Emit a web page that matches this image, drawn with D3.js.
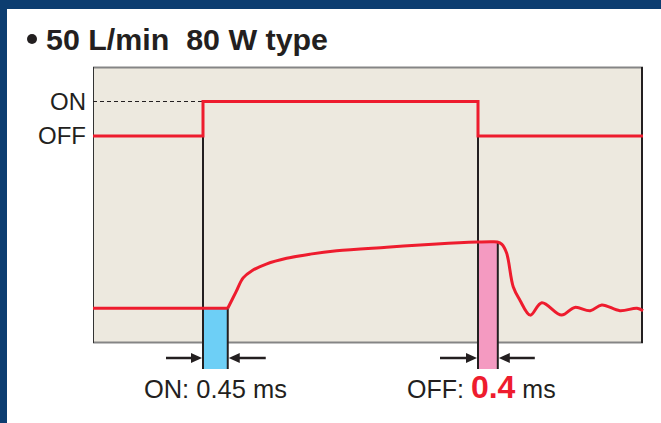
<!DOCTYPE html>
<html><head><meta charset="utf-8">
<script src="https://cdn.jsdelivr.net/npm/d3@7"></script>
<style>html,body{margin:0;padding:0;background:#0c3d70;}svg{display:block;}</style>
</head><body>
<script>
// ---- data ----
const titleText = "50 L/min  80 W type";
const levelLabels = ["ON", "OFF"];
const levelValues = [87.5, 75];
// digital control signal (time, level)
const digitalT = [0, 20, 20, 70, 70, 100];
const digitalV = [75, 75, 87.5, 87.5, 75, 75];
// analog response
const analogT = [0, 24.5, 26.0, 27.3, 28.9, 31.5, 35.2, 39.5, 44.3, 53.4, 62.5, 69.9, 72.5, 73.5, 74.3, 75.2, 76.4, 77.6, 79.5, 81.6, 85.2, 87.6, 90.4, 92.5, 95.8, 98.9, 100];
const analogV = [12.6, 12.6, 18.5, 23.6, 26.2, 28.6, 30.7, 32.2, 33.4, 34.7, 35.9, 36.6, 36.7, 36.6, 35.8, 32.6, 20.4, 15.6, 10.1, 14.6, 10.1, 12.9, 11.7, 13.8, 11.7, 12.6, 11.7];
// response delays (time intervals)
const onDelay = [20, 24.5];
const offDelay = [70, 73.6];
const onLabel = "ON: 0.45 ms";
const offLabelParts = ["OFF: ", "0.4", " ms"];

// ---- layout ----
const W = 661, H = 423;
const plot = {l: 93, r: 643, t: 67, b: 343};
const svg = d3.select("body").append("svg").attr("width", W).attr("height", H);
svg.append("rect").attr("width", W).attr("height", H).attr("fill", "#0c3d70");
svg.append("rect").attr("x", 7).attr("y", 9).attr("width", W - 7).attr("height", H - 9).attr("fill", "#ffffff");

const x = d3.scaleLinear().domain([0, 100]).range([plot.l, plot.r]);
const y = d3.scaleLinear().domain([0, 100]).range([plot.b, plot.t]);
const red = "#ee1c2e";
const font = "'Liberation Sans', Arial, Helvetica, sans-serif";

// title
svg.append("circle").attr("cx", 32).attr("cy", 39).attr("r", 5).attr("fill", "#231f20");
svg.append("text").attr("x", 46).attr("y", 50).attr("font-family", font).attr("font-weight", "bold")
  .attr("font-size", 30).attr("fill", "#231f20").style("white-space", "pre")
  .attr("textLength", 282).attr("lengthAdjust", "spacingAndGlyphs").text(titleText);

// plot background
svg.append("rect").attr("x", plot.l).attr("y", plot.t).attr("width", plot.r - plot.l).attr("height", plot.b - plot.t)
  .attr("fill", "#ede9df");
svg.append("line").attr("x1", plot.l).attr("x2", plot.r).attr("y1", plot.t + 0.5).attr("y2", plot.t + 0.5).attr("stroke", "#858585").attr("stroke-width", 2);
svg.append("line").attr("x1", plot.l).attr("x2", plot.r).attr("y1", plot.b - 0.5).attr("y2", plot.b - 0.5).attr("stroke", "#858585").attr("stroke-width", 2);
svg.append("line").attr("x1", plot.l + 0.5).attr("x2", plot.l + 0.5).attr("y1", plot.t).attr("y2", plot.b).attr("stroke", "#333").attr("stroke-width", 1);
svg.append("line").attr("x1", plot.r - 1).attr("x2", plot.r - 1).attr("y1", plot.t).attr("y2", plot.b).attr("stroke", "#231f20").attr("stroke-width", 2);

// y axis labels ON / OFF
const yAxis = d3.axisLeft(y).tickValues(levelValues).tickFormat((d, i) => levelLabels[i]).tickSize(0).tickPadding(7);
const ga = svg.append("g").attr("transform", `translate(${plot.l},0)`).call(yAxis);
ga.select(".domain").remove();
ga.selectAll("text").attr("font-family", font).attr("font-size", 24).attr("fill", "#231f20");

// dashed ON reference line
svg.append("line").attr("x1", x(0)).attr("x2", x(digitalT[1])).attr("y1", y(levelValues[0])).attr("y2", y(levelValues[0]))
  .attr("stroke", "#231f20").attr("stroke-width", 1).attr("stroke-dasharray", "4,3");

// delay bars
const barBottom = plot.b + 26;
function interp(t) {
  for (let i = 1; i < analogT.length; i++) if (analogT[i] >= t) {
    const a = analogT[i - 1], b = analogT[i];
    return analogV[i - 1] + (analogV[i] - analogV[i - 1]) * (b === a ? 0 : (t - a) / (b - a));
  }
  return analogV[analogV.length - 1];
}
const delays = [
  {iv: onDelay, fill: "#6dcff6", top: y(interp(onDelay[1]))},
  {iv: offDelay, fill: "#f49ac1", top: y(interp(offDelay[0]))}
];
delays.forEach(d => {
  svg.append("rect").attr("x", x(d.iv[0])).attr("y", d.top).attr("width", x(d.iv[1]) - x(d.iv[0]))
    .attr("height", barBottom - d.top).attr("fill", d.fill);
});
// black vertical markers
svg.append("line").attr("x1", x(onDelay[0])).attr("x2", x(onDelay[0])).attr("y1", y(levelValues[1])).attr("y2", barBottom).attr("stroke", "#231f20").attr("stroke-width", 2);
svg.append("line").attr("x1", x(onDelay[1])).attr("x2", x(onDelay[1])).attr("y1", delays[0].top).attr("y2", barBottom).attr("stroke", "#231f20").attr("stroke-width", 2);
svg.append("line").attr("x1", x(offDelay[0])).attr("x2", x(offDelay[0])).attr("y1", y(levelValues[1])).attr("y2", barBottom).attr("stroke", "#231f20").attr("stroke-width", 2);
svg.append("line").attr("x1", x(offDelay[1])).attr("x2", x(offDelay[1])).attr("y1", delays[1].top).attr("y2", barBottom).attr("stroke", "#231f20").attr("stroke-width", 2);

// digital signal
const dline = d3.line().x(d => x(d[0])).y(d => y(d[1]));
svg.append("path").attr("d", dline(digitalT.map((t, i) => [t, digitalV[i]])))
  .attr("fill", "none").attr("stroke", red).attr("stroke-width", 3);

// analog signal
const pts = analogT.map((t, i) => [t, analogV[i]]);
svg.append("path").attr("d", d3.line().x(d => x(d[0])).y(d => y(d[1]))(pts.slice(0, 2)))
  .attr("fill", "none").attr("stroke", red).attr("stroke-width", 3);
svg.append("path").attr("d", d3.line().x(d => x(d[0])).y(d => y(d[1])).curve(d3.curveCatmullRom.alpha(0.5))(pts.slice(1)))
  .attr("fill", "none").attr("stroke", red).attr("stroke-width", 3).attr("stroke-linejoin", "round");

// arrows
const arrowY = plot.b + 15;
function arrow(x1, x2) {
  const dir = Math.sign(x2 - x1);
  svg.append("line").attr("x1", x1).attr("x2", x2 - dir * 8).attr("y1", arrowY).attr("y2", arrowY)
    .attr("stroke", "#231f20").attr("stroke-width", 2.5);
  svg.append("path").attr("d", `M${x2},${arrowY} L${x2 - dir * 11},${arrowY - 5} L${x2 - dir * 11},${arrowY + 5} Z`)
    .attr("fill", "#231f20");
}
arrow(x(onDelay[0]) - 37, x(onDelay[0]) - 1);
arrow(x(onDelay[1]) + 38, x(onDelay[1]) + 1);
arrow(x(offDelay[0]) - 38, x(offDelay[0]) - 1);
arrow(x(offDelay[1]) + 37, x(offDelay[1]) + 1);

// labels
svg.append("text").attr("x", (x(onDelay[0]) + x(onDelay[1])) / 2).attr("y", 398).attr("text-anchor", "middle")
  .attr("font-family", font).attr("font-size", 25).attr("fill", "#231f20")
  .attr("textLength", 143).attr("lengthAdjust", "spacingAndGlyphs").text(onLabel);
const ot = svg.append("text").attr("x", 407).attr("y", 398).attr("font-family", font).attr("font-size", 25).attr("fill", "#231f20").style("white-space", "pre");
ot.append("tspan").text(offLabelParts[0]);
ot.append("tspan").attr("font-weight", "bold").attr("font-size", 32).attr("fill", red).text(offLabelParts[1]);
ot.append("tspan").text(offLabelParts[2]);
</script>
</body></html>
